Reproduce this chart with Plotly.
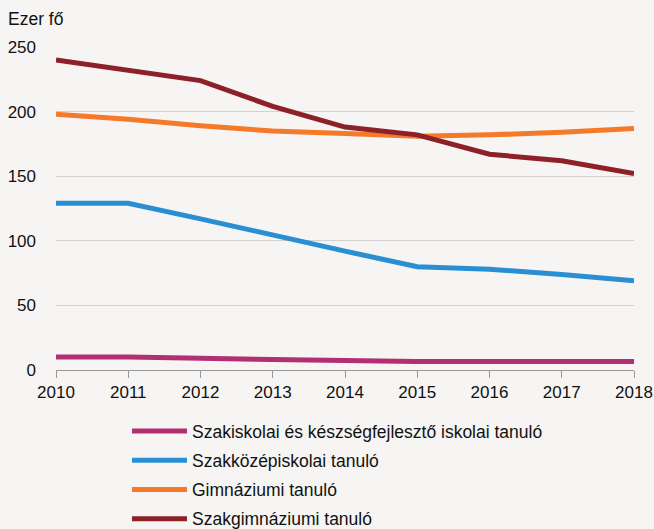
import plotly.graph_objects as go

years = [2010, 2011, 2012, 2013, 2014, 2015, 2016, 2017, 2018]
szakiskolai = [10, 10, 9, 8, 7, 6.5, 6.5, 6.5, 6.5]
szakkozep = [129, 129, 117, 104, 92, 80, 78, 74, 69]
gimnazium = [198, 194, 189, 185, 183, 181, 182, 184, 187]
szakgimn = [240, 232, 224, 204, 188, 182, 167, 162, 152]
yticks = [0, 50, 100, 150, 200, 250]

names = [
    "Szakiskolai és készségfejlesztő iskolai tanuló",
    "Szakközépiskolai tanuló",
    "Gimnáziumi tanuló",
    "Szakgimnáziumi tanuló",
]
colors = ["#B22F72", "#2A8FD2", "#F47A2A", "#8E2128"]
series = [szakiskolai, szakkozep, gimnazium, szakgimn]

fig = go.Figure()
for i, (n, c, s) in enumerate(zip(names, colors, series)):
    fig.add_trace(go.Scatter(x=years, y=s, name=n, mode="lines",
                             legendgroup=f"g{i}",
                             line=dict(color=c, width=5)))

bg = "#F6F5F3"
FONT = "Liberation Sans, Arial, sans-serif"
PW, PH = 578, 323
fig.update_layout(
    width=654, height=529,
    paper_bgcolor=bg, plot_bgcolor=bg,
    margin=dict(l=56, r=20, t=47, b=159, autoexpand=False),
    font=dict(family=FONT, size=17, color="#111"),
    showlegend=True,
    legend=dict(orientation="v", x=71 / PW, xanchor="left", y=-43 / PH,
                yanchor="top", font=dict(size=17.5), bgcolor="rgba(0,0,0,0)",
                itemwidth=55, tracegroupgap=3.5),
    xaxis=dict(range=[2010, 2018], tickmode="array", tickvals=years,
               showgrid=False, showline=True, linecolor="#999", linewidth=1,
               ticks="outside", ticklen=7, tickcolor="#999", zeroline=False,
               automargin=False),
    yaxis=dict(range=[0, 250], tickmode="array", tickvals=yticks,
               showgrid=True, gridcolor="#D0D0D0", gridwidth=1,
               zeroline=False, showline=False, ticks="", ticklabelstandoff=19,
               automargin=False),
    annotations=[dict(text="Ezer fő", xref="paper", yref="paper",
                      x=-50 / PW, y=1 + 40 / PH,
                      xanchor="left", yanchor="top", showarrow=False,
                      font=dict(size=17.5))],
)
fig.write_html("out.html", config={"displayModeBar": False},
               post_script="document.body.style.margin='0';document.body.style.background='%s';" % bg)
